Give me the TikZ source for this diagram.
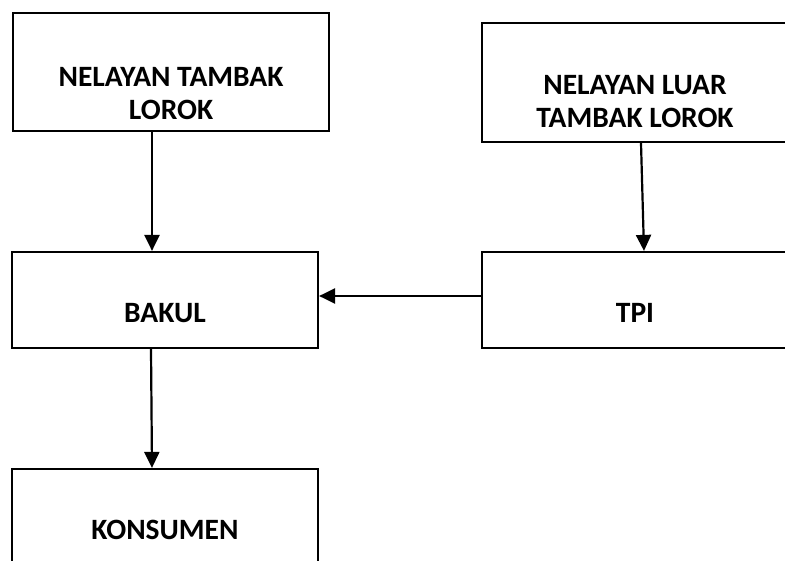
\documentclass[tikz,border=0pt]{standalone}
\usepackage{fontspec}
\setmainfont{Carlito}
\usetikzlibrary{arrows.meta}
\tikzset{
  boxnode/.style={draw=black, line width=2.2pt, rectangle, inner sep=0pt},
  lbl/.style={font=\bfseries\fontsize{29.5}{33.3}\selectfont, align=center, inner sep=0pt, text=black},
  conn/.style={line width=2.2pt, -{Triangle[length=16pt,width=15pt]}}
}
\begin{document}
\begin{tikzpicture}[x=1pt,y=-1pt]
\useasboundingbox (0,0) rectangle (785,561);
\clip (0,0) rectangle (785,561);
\fill[white] (0,0) rectangle (785,561);
% boxes
\node[boxnode, minimum width=316pt, minimum height=118pt] (n1) at (171,72) {};
\node[boxnode, minimum width=308pt, minimum height=119pt] (n2) at (636,82.5) {};
\node[boxnode, minimum width=306pt, minimum height=96pt] (bakul) at (165,300) {};
\node[boxnode, minimum width=308pt, minimum height=96pt] (tpi) at (636,300) {};
\node[boxnode, minimum width=306pt, minimum height=121pt] (kons) at (165,529.5) {};
% texts
\node[lbl, anchor=base] (t1) at (171,120) {NELAYAN TAMBAK\\LOROK};
\node[lbl, anchor=base] (t2) at (635,128) {NELAYAN LUAR\\TAMBAK LOROK};
\node[lbl, anchor=base] (t3) at (165,323) {BAKUL};
\node[lbl, anchor=base] (t4) at (635,323) {TPI};
\node[lbl, anchor=base] (t5) at (165,539) {KONSUMEN};
% connectors
\draw[conn] ([xshift=-19pt]n1.south) -- ([xshift=-13pt]bakul.north);
\draw[conn] ([xshift=5pt]n2.south) -- ([xshift=8pt]tpi.north);
\draw[conn] ([yshift=4pt]tpi.west) -- ([yshift=4pt]bakul.east);
\draw[conn] ([xshift=-14pt]bakul.south) -- ([xshift=-13pt]kons.north);
\end{tikzpicture}
\end{document}
